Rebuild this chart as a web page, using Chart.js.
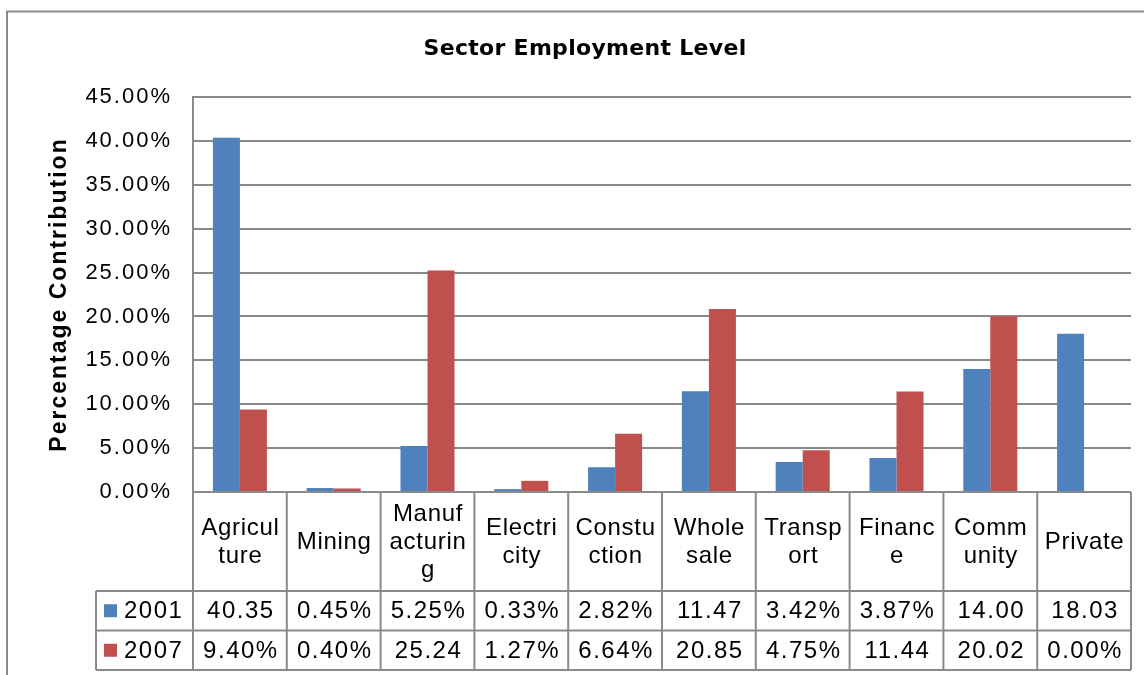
<!DOCTYPE html>
<html>
<head>
<meta charset="utf-8">
<script src="https://cdn.jsdelivr.net/npm/chart.js@4.4.1/dist/chart.umd.min.js"></script>
<style>
  html, body { margin: 0; padding: 0; background: #fff; overflow: hidden; }
  #wrap { width: 1144px; height: 675px; overflow: hidden; position: relative; }
  #wrap canvas { position: absolute; left: 0; top: 0; }
</style>
</head>
<body>
<div id="wrap"><canvas id="chart" width="1170" height="690"></canvas></div>
<script>
// data
const categories = [
  ['Agricul', 'ture'], ['Mining'], ['Manuf', 'acturin', 'g'], ['Electri', 'city'],
  ['Constu', 'ction'], ['Whole', 'sale'], ['Transp', 'ort'], ['Financ', 'e'],
  ['Comm', 'unity'], ['Private']
];
const years = ['2001', '2007'];
const values2001 = [40.35, 0.45, 5.25, 0.33, 2.82, 11.47, 3.42, 3.87, 14.00, 18.03];
const values2007 = [9.40, 0.40, 25.24, 1.27, 6.64, 20.85, 4.75, 11.44, 20.02, 0.00];
const yMax = 45;
const yStep = 5;
const chartTitle = 'Sector Employment Level';

const colors = ['#4f81bd', '#c0504d'];
const lineColor = '#8a8a8a';
const FONT = '"Liberation Sans", Arial, sans-serif';

// Excel cuts off the "%" when the cell is too narrow
const cellText = v => v >= 10 ? v.toFixed(2) : v.toFixed(2) + '%';

const frame = {
  id: 'frame',
  afterInit(chart) { chart.ctx.letterSpacing = '2px'; },
  beforeDraw(chart) {
    const ctx = chart.ctx;
    ctx.letterSpacing = '2px';
    ctx.save();
    ctx.strokeStyle = lineColor;
    ctx.lineWidth = 2;
    ctx.strokeRect(7, 11.5, 1156, 700);
    // title
    ctx.letterSpacing = '0.3px';
    ctx.fillStyle = '#000';
    ctx.font = 'bold 22px "DejaVu Sans", sans-serif';
    ctx.textAlign = 'center';
    ctx.textBaseline = 'middle';
    ctx.fillText(chartTitle, 585, 49);
    ctx.restore();
  }
};

const dataTable = {
  id: 'dataTable',
  afterDraw(chart) {
    const ctx = chart.ctx;
    const area = chart.chartArea;
    const x = chart.scales.x;
    const colW = (area.right - area.left) / categories.length;
    const rowTop = area.bottom;
    const r1 = 591, r2 = 630.5, r3 = 670;
    const legendLeft = 96;

    ctx.save();
    ctx.strokeStyle = lineColor;
    ctx.lineWidth = 2;
    ctx.beginPath();
    [r1, r2, r3].forEach(y => { ctx.moveTo(legendLeft, y); ctx.lineTo(area.right, y); });
    ctx.moveTo(legendLeft, r1); ctx.lineTo(legendLeft, r3);
    for (let i = 0; i <= categories.length; i++) {
      const cx = area.left + i * colW;
      ctx.moveTo(cx, rowTop); ctx.lineTo(cx, r3);
    }
    ctx.stroke();

    ctx.fillStyle = '#000';
    ctx.textAlign = 'center';
    ctx.textBaseline = 'middle';
    ctx.letterSpacing = '0.7px';
    ctx.font = '24px ' + FONT;
    const lh = 28;
    categories.forEach((lines, i) => {
      const cx = x.getPixelForValue(i);
      const y0 = 542 - (lines.length - 1) * lh / 2;
      lines.forEach((t, j) => ctx.fillText(t, cx + 0.5, y0 + j * lh));
    });

    ctx.letterSpacing = '1.5px';
    const rows = [values2001, values2007];
    const mids = [(r1 + r2) / 2, (r2 + r3) / 2];
    rows.forEach((vals, k) => {
      vals.forEach((v, i) => {
        ctx.fillText(cellText(v), x.getPixelForValue(i) + 1, mids[k] + 1);
      });
      ctx.fillStyle = colors[k];
      ctx.fillRect(104, mids[k] - 6.5, 13, 13);
      ctx.fillStyle = '#000';
      ctx.textAlign = 'left';
      ctx.fillText(years[k], 124, mids[k] + 1);
      ctx.textAlign = 'center';
    });
    ctx.restore();
  }
};

new Chart(document.getElementById('chart'), {
  type: 'bar',
  data: {
    labels: categories.map(c => c.join('')),
    datasets: [
      { label: years[0], data: values2001, backgroundColor: colors[0] },
      { label: years[1], data: values2007, backgroundColor: colors[1] }
    ]
  },
  options: {
    responsive: false,
    animation: false,
    layout: { padding: { left: 0, right: 39, top: 97, bottom: 198 } },
    categoryPercentage: 0.576,
    barPercentage: 1.0,
    plugins: {
      legend: { display: false },
      tooltip: { enabled: false },
      title: { display: false }
    },
    scales: {
      x: { display: false },
      y: {
        min: 0,
        max: yMax,
        afterFit(scale) { scale.width = 193; },
        ticks: {
          stepSize: yStep,
          color: '#000',
          padding: 21,
          font: { family: FONT, size: 22 },
          callback: v => v.toFixed(2) + '%'
        },
        grid: { color: lineColor, lineWidth: 2, drawTicks: false },
        border: { display: true, color: lineColor, width: 2 },
        title: {
          display: true,
          text: 'Percentage Contribution',
          color: '#000',
          font: { family: FONT, size: 23, weight: 'bold', lineHeight: 1.2 },
          padding: { top: 46, bottom: 0 }
        }
      }
    }
  },
  plugins: [frame, dataTable]
});
</script>
</body>
</html>
